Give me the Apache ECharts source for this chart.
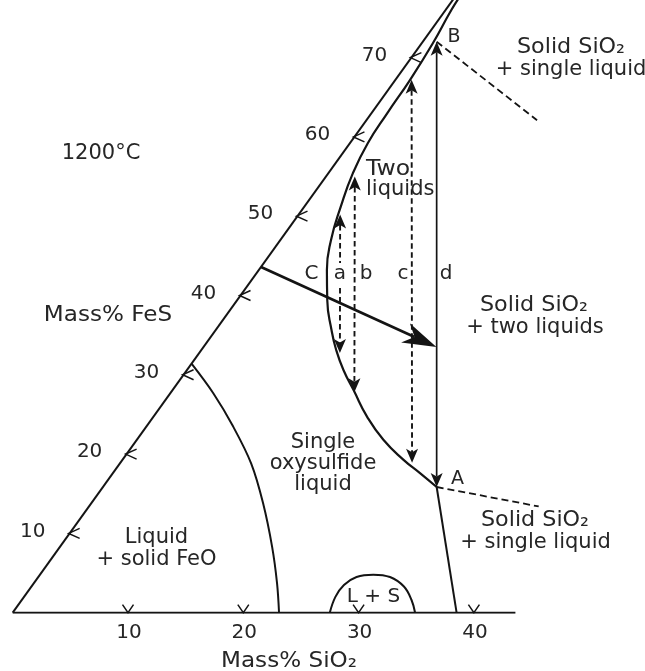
<!DOCTYPE html>
<html><head><meta charset="utf-8">
<script src="https://cdn.jsdelivr.net/npm/echarts@6/dist/echarts.min.js"></script>
<style>html,body{margin:0;padding:0;background:#fff}#c{width:645px;height:671px}</style>
</head><body><div id="c"></div>
<script>
// All compositions are [Mass% SiO2, Mass% FeS]
const sideEdge = [[0, 0], [0, 80]];
const baseEdge = [[0, 0], [43.6, 0]];
const feoBoundary = [[0, 31.4], [3.7, 27.7], [7.5, 23.5], [11.4, 18.8], [14.9, 13.8], [18.4, 8.3], [21.1, 3.7], [23.1, 0]];
const twoLiquidBoundary = [[0.4, 77.9], [0.5, 76.0], [0.97, 71.8], [1.27, 67.2], [1.37, 63.0], [1.55, 59.2], [2.13, 55.4], [3.16, 51.2], [4.39, 47.0], [5.91, 43.2], [7.82, 39.4], [10.04, 35.65], [11.71, 33.1], [13.57, 30.6], [15.67, 28.1], [18.54, 24.7], [21.38, 21.8], [24.34, 19.3], [26.63, 17.6], [28.94, 15.85]];
const silicaBoundary = [[28.94, 15.85], [38.5, 0]];
const extensionB = [[1.2, 72.0], [14.8, 62.1]];
const extensionA = [[28.94, 15.85], [39.0, 13.4]];
const lsDome = [[27.5, 0], [27.0, 2.0], [27.0, 3.5], [27.6, 4.5], [28.9, 4.8], [30.5, 4.5], [32.3, 3.3], [33.8, 1.6], [34.9, 0]];
const tieLine = [[0, 43.6], [20.2, 33.5]];
const pathA = [[3.6, 50.2], [12.2, 32.75]];
const pathB = [[2.5, 55.0], [15.9, 27.8]];
const pathC = [[1.4, 67.2], [25.3, 18.9]];
const pathD = [[1.2, 72.0], [28.94, 15.85]];
const feTicks = [10, 20, 30, 40, 50, 60, 70];
const siTicks = [10, 20, 30, 40];

const SHEAR = 0.494;           // ternary-to-cartesian skew of the plot
const toXY = p => [p[0] + SHEAR * p[1], p[1]];
const seg = pair => [...toXY(pair[0]), ...toXY(pair[1])];
const INK = '#141414', TXT = '#262626';
const FONT = '"DejaVu Sans", sans-serif';

function lineSeries(pts, opt) {
  opt = opt || {};
  return {
    type: 'line', data: pts.map(toXY), symbol: 'none', silent: true,
    smooth: opt.smooth || false, clip: true,
    lineStyle: { color: INK, width: opt.width || 2, type: opt.dash ? opt.dash : 'solid' }
  };
}

function arrowRender(opt) {
  return function (params, api) {
    const p1 = api.coord([api.value(0), api.value(1)]);
    const p2 = api.coord([api.value(2), api.value(3)]);
    const dx = p2[0] - p1[0], dy = p2[1] - p1[1];
    const L = Math.hypot(dx, dy), ux = dx / L, uy = dy / L;
    const back = opt.len - opt.indent;
    let s = p1, e = p2;
    if (opt.start) s = [p1[0] + ux * back, p1[1] + uy * back];
    if (opt.end) e = [p2[0] - ux * back, p2[1] - uy * back];
    const children = [{
      type: 'line', shape: { x1: s[0], y1: s[1], x2: e[0], y2: e[1] },
      style: { stroke: INK, lineWidth: opt.width, lineDash: opt.dash || null, fill: 'none' }
    }];
    const head = (tip, vx, vy) => {
      const bx = tip[0] - vx * opt.len, by = tip[1] - vy * opt.len;
      const px = -vy, py = vx;
      return {
        type: 'polygon',
        shape: { points: [tip, [bx + px * opt.halfW, by + py * opt.halfW], [tip[0] - vx * back, tip[1] - vy * back], [bx - px * opt.halfW, by - py * opt.halfW]] },
        style: { fill: INK }
      };
    };
    if (opt.start) children.push(head(p1, -ux, -uy));
    if (opt.end) children.push(head(p2, ux, uy));
    return { type: 'group', children };
  };
}

// [text, x, y, fontSize, align, horizontal stretch, white backing]
const labels = [
  ['1200°C', 101, 154, 21, 'center', 1],
  ['Mass% FeS', 108, 316, 21, 'center', 1.1],
  ['Two', 366, 170, 21, 'left', 1.12],
  ['liquids', 366, 190, 21, 'left', 1],
  ['C', 311.5, 274, 20, 'center', 1],
  ['a', 340, 274, 20, 'center', 1, true],
  ['b', 366, 274, 20, 'center', 1],
  ['c', 403, 274, 20, 'center', 1],
  ['d', 446, 274, 20, 'center', 1],
  ['B', 454, 37, 19, 'center', 1],
  ['A', 457.5, 479, 19, 'center', 1],
  ['Solid SiO₂', 571, 47.5, 21, 'center', 1.06],
  ['+ single liquid', 571, 69.5, 21, 'center', 1],
  ['Solid SiO₂', 534, 306, 21, 'center', 1.06],
  ['+ two liquids', 535, 328, 21, 'center', 1],
  ['Single', 323, 443, 21, 'center', 1],
  ['oxysulfide', 323, 464, 21, 'center', 1],
  ['liquid', 323, 485, 21, 'center', 1],
  ['Solid SiO₂', 535, 520.5, 21, 'center', 1.06],
  ['+ single liquid', 535.5, 542.5, 21, 'center', 1],
  ['Liquid', 156.5, 537.5, 21, 'center', 1],
  ['+ solid FeO', 156.5, 560, 21, 'center', 1],
  ['L + S', 373.5, 596.5, 20, 'center', 1],
  ['Mass% SiO₂', 289, 662, 21, 'center', 1.1]
];

const chart = echarts.init(document.getElementById('c'), null, { renderer: 'canvas' });
chart.setOption({
  animation: false,
  backgroundColor: '#fff',
  grid: { left: 12.7, top: 0, width: 576.5, height: 612.7 },
  xAxis: { type: 'value', min: 0, max: 50, show: false },
  yAxis: { type: 'value', min: 0, max: 77.26, show: false },
  series: [
    lineSeries(sideEdge, { width: 2 }),
    lineSeries(baseEdge, { width: 2 }),
    lineSeries(feoBoundary, { smooth: 0.35, width: 2 }),
    lineSeries(twoLiquidBoundary, { smooth: 0.5, width: 2.2 }),
    lineSeries(silicaBoundary, { width: 2 }),
    lineSeries(lsDome, { smooth: 0.4, width: 2 }),
    lineSeries(extensionB, { width: 1.8, dash: [7, 4] }),
    lineSeries(extensionA, { width: 1.8, dash: [7, 4] }),
    {
      type: 'custom', coordinateSystem: 'cartesian2d', clip: false, silent: true,
      encode: { x: [0, 2], y: [1, 3] },
      data: [seg(pathA), seg(pathB), seg(pathC)],
      renderItem: arrowRender({ start: true, end: true, len: 14, halfW: 6, indent: 3.5, width: 1.9, dash: [5.5, 3.5] })
    },
    {
      type: 'custom', coordinateSystem: 'cartesian2d', clip: false, silent: true,
      encode: { x: [0, 2], y: [1, 3] },
      data: [seg(pathD)],
      renderItem: arrowRender({ start: true, end: true, len: 14, halfW: 6, indent: 3.5, width: 1.7 })
    },
    {
      type: 'custom', coordinateSystem: 'cartesian2d', clip: false, silent: true,
      encode: { x: [0, 2], y: [1, 3] },
      data: [seg(tieLine)],
      renderItem: arrowRender({ start: false, end: true, len: 34, halfW: 10.5, indent: 10, width: 2.7 })
    },
    {
      type: 'custom', coordinateSystem: 'cartesian2d', clip: false, silent: true,
      encode: { x: 0, y: 1 },
      data: feTicks.map(v => [...toXY([0, v]), v]),
      renderItem: (params, api) => {
        const p = api.coord([api.value(0), api.value(1)]);
        return { type: 'group', children: [
          { type: 'polyline', shape: { points: [[p[0] + 10, p[1] - 5], [p[0] - 1, p[1]], [p[0] + 10, p[1] + 5]] }, style: { stroke: INK, lineWidth: 1.5, fill: 'none' } },
          { type: 'text', style: { text: String(api.value(2)), x: p[0] - 37, y: p[1] - 2, align: 'center', verticalAlign: 'middle', font: '20px ' + FONT, fill: TXT } }
        ] };
      }
    },
    {
      type: 'custom', coordinateSystem: 'cartesian2d', clip: false, silent: true,
      encode: { x: 0, y: 1 },
      data: siTicks.map(v => [v, 0, v]),
      renderItem: (params, api) => {
        const p = api.coord([api.value(0), api.value(1)]);
        return { type: 'group', children: [
          { type: 'polyline', shape: { points: [[p[0] - 5.5, p[1] - 8], [p[0], p[1]], [p[0] + 5.5, p[1] - 8]] }, style: { stroke: INK, lineWidth: 1.5, fill: 'none' } },
          { type: 'text', style: { text: String(api.value(2)), x: p[0] + 1, y: p[1] + 20, align: 'center', verticalAlign: 'middle', font: '20px ' + FONT, fill: TXT } }
        ] };
      }
    }
  ],
  graphic: {
    elements: labels.map(l => ({
      type: 'text', silent: true, x: l[1], y: l[2], scaleX: l[5], z: 100,
      style: Object.assign(
        { text: l[0], x: 0, y: 0, align: l[4], verticalAlign: 'middle', font: l[3] + 'px ' + FONT, fill: TXT },
        l[6] ? { backgroundColor: '#fff', padding: [1, 1] } : {}
      )
    }))
  }
});
</script>
</body></html>
